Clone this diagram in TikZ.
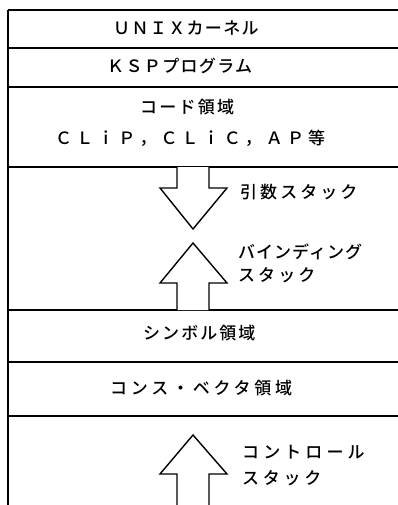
\documentclass[tikz,border=0pt]{standalone}
\usepackage{fontspec}
\newfontfamily\jp{Noto Sans CJK JP}[UprightFont={* Medium}]
\begin{document}
\begin{tikzpicture}[x=1pt,y=-1pt,
  rule/.style={line width=1.5pt,black},
  arr/.style={line width=1.4pt,black,fill=white,line join=miter},
  lbl/.style={font=\jp\fontsize{17}{21}\selectfont\addfontfeature{LetterSpace=#1},inner sep=0pt,anchor=west},
  lbl/.default=6]
\useasboundingbox (0,0) rectangle (398,505);
% frame
\draw[rule] (8,10) -- (8,505);
\foreach \y in {10,48,87,167,310,362,416} \draw[rule] (8,\y) -- (398,\y);
% region labels
\node[lbl=8] (unix) at (113,28) {ＵＮＩＸカーネル};
\node[lbl=8] (ksp) at (107,66) {ＫＳＰプログラム};
\node[lbl=13] (code) at (140,107) {コード領域};
\node[lbl=24] (clip) at (55,138) {ＣＬｉＰ，ＣＬｉＣ，ＡＰ等};
\node[lbl=12] (sym) at (143,333) {シンボル領域};
\node[lbl=22] (cons) at (110,388) {コンス・ベクタ領域};
% arrows
\draw[arr] (177,167) -- (177,188) -- (160,188) -- (193,229) -- (227,188) -- (209,188) -- (209,167);
\draw[arr] (177,310) -- (177,283) -- (160,283) -- (193,243) -- (227,283) -- (209,283) -- (209,310);
\draw[arr] (177,505) -- (177,474) -- (160,474) -- (193,435) -- (227,474) -- (209,474) -- (209,505);
% stack labels
\node[lbl=18] (arg) at (240,192) {引数スタック};
\node[lbl=6] (bind1) at (238,252) {バインディング};
\node[lbl=18] (bind2) at (238,275) {スタック};
\node[lbl=24] (ctl1) at (242,452) {コントロール};
\node[lbl=22] (ctl2) at (242,478) {スタック};
\end{tikzpicture}
\end{document}
